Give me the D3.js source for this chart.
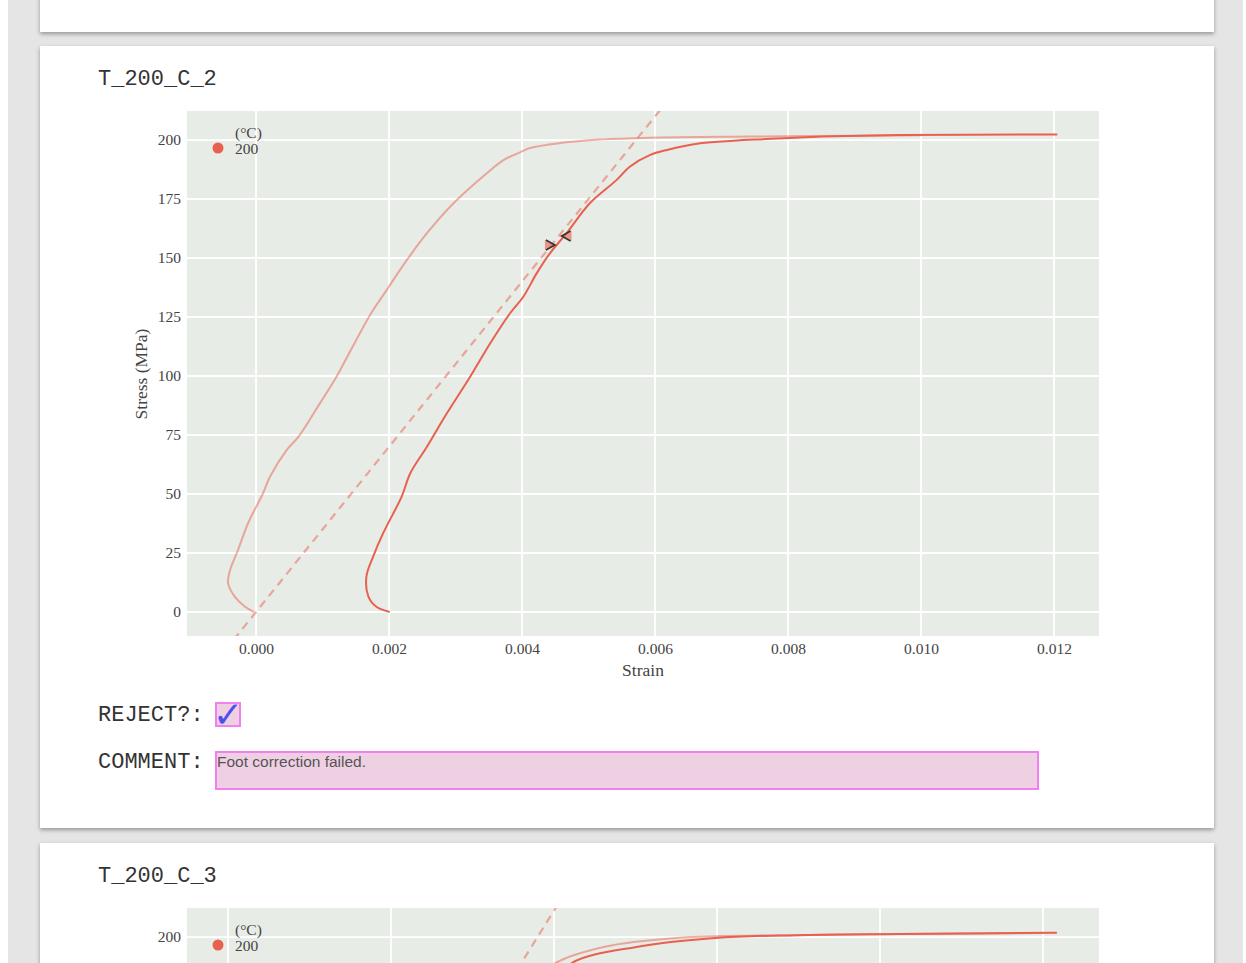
<!DOCTYPE html>
<html><head><meta charset="utf-8">
<script src="https://cdn.jsdelivr.net/npm/d3@7"></script>
<style>
html,body{margin:0;padding:0;background:#fff;overflow:hidden;}
svg{display:block;}
</style></head><body>
<svg id="page" width="1246" height="963"></svg>
<script>
// ---------------- DATA ----------------
const specimenNames = ["T_200_C_2", "T_200_C_3"];
const xTickValues = [0, 0.002, 0.004, 0.006, 0.008, 0.010, 0.012];
const yTickValues = [0, 25, 50, 75, 100, 125, 150, 175, 200];
const legendTitle = "(°C)";
const legendLabels = ["200"];
const xAxisTitle = "Strain";
const yAxisTitle = "Stress (MPa)";
const rejectLabel = "REJECT?:";
const commentLabel = "COMMENT:";
const commentText = "Foot correction failed.";

// Panel 1 (T_200_C_2): raw curve
const rawStrain1 = [-0.00003, -0.000165, -0.00032, -0.00042, -0.00039, -0.00027, -0.00012, 0.0001, 0.00021, 0.00046, 0.00064, 0.00096, 0.00121, 0.00141, 0.00174, 0.00193, 0.00227, 0.00257, 0.00297, 0.00347, 0.00372, 0.00397, 0.00412, 0.00457, 0.00517, 0.00592, 0.00743, 0.00968, 0.01000];
const rawStress1 = [0, 2.2, 6.5, 12.1, 17.8, 26.3, 37.6, 50, 57.3, 68.6, 74.3, 88.4, 99.7, 110.2, 127, 135, 149.2, 160.5, 173.2, 185.9, 191.5, 194.8, 196.6, 198.7, 200.2, 201, 201.5, 201.9, 202];
// Panel 1: corrected curve
const corrStrain1 = [0.00201, 0.00181, 0.00169, 0.00166, 0.00176, 0.00191, 0.00219, 0.00232, 0.00257, 0.00287, 0.00322, 0.00352, 0.00382, 0.00402, 0.00422, 0.00442, 0.00467, 0.00502, 0.00542, 0.00562, 0.00592, 0.00618, 0.00668, 0.00718, 0.00768, 0.00818, 0.00968, 0.01205];
const corrStress1 = [0, 2.2, 6.5, 15, 23.4, 33.3, 48.9, 58.8, 70, 84.2, 99.7, 113.8, 126.6, 133.6, 143.5, 152, 160.5, 173.2, 183, 188.7, 193.6, 195.8, 198.6, 199.7, 200.4, 201.1, 202.1, 202.3];
// Panel 1: modulus (dashed) line
const modStrain1 = [-0.0006, 0.0066];
const modStress1 = [-21, 231];
// Panel 1: fit window markers
const markStrain1 = [0.00442, 0.00467];
const markStress1 = [155.5, 159.3];
const markDir1 = ["right", "left"];

// Panel 2 (T_200_C_3), only the top is visible
const rawStrain2 = [0.0038, 0.00402, 0.00461, 0.0055, 0.00696, 0.00825, 0.0100];
const rawStress2 = [182, 189, 195.8, 199.6, 200.8, 201.3, 201.7];
const corrStrain2 = [0.0040, 0.00422, 0.00501, 0.00598, 0.00696, 0.00825, 0.01017];
const corrStress2 = [180, 189, 195.8, 199.6, 200.8, 201.3, 201.8];
const modStrain2 = [0.0030, 0.0045];
const modStress2 = [155.7, 239];

// ---------------- DRAW ----------------
const VIEW_H = 963;
const svg = d3.select("#page");
const defs = svg.append("defs");
const f = defs.append("filter").attr("id", "shadow").attr("x", "-5%").attr("y", "-5%").attr("width", "110%").attr("height", "110%");
f.append("feDropShadow").attr("dx", 0).attr("dy", 2).attr("stdDeviation", 2).attr("flood-color", "#000").attr("flood-opacity", 0.35);

const lineColor = "#e8604f";
const serif = "'Liberation Serif','Times New Roman',serif";
const mono = "'Liberation Mono','Courier New',monospace";
const sans = "'Liberation Sans',Arial,sans-serif";

// page background
svg.append("rect").attr("x", 8).attr("y", 0).attr("width", 1235).attr("height", 963).attr("fill", "#e5e5e5");

// cards
const cardTops = [-750, 46, 843];
cardTops.forEach(t => {
  svg.append("rect").attr("x", 40).attr("y", t).attr("width", 1174).attr("height", 782)
    .attr("fill", "#fff").attr("filter", "url(#shadow)");
});

function drawPanel(o) {
  const off = o.offset;
  const vis = py => py + off < VIEW_H - 8;
  const g = svg.append("g").attr("transform", `translate(0,${off})`);
  const L = 187, T = 111, W = 912, H = 525;
  const x = d3.scaleLinear().domain(o.xDomain).range([L, L + W]);
  const y = d3.scaleLinear().domain([-10.17, 212.3]).range([T + H, T]);

  g.append("text").attr("x", 98).attr("y", 85).attr("font-family", mono).attr("font-size", 22)
    .attr("fill", "#333").text(o.name);

  g.append("rect").attr("x", L).attr("y", T).attr("width", W).attr("height", H).attr("fill", "#e8ece6");
  const cid = "clip" + o.idx;
  defs.append("clipPath").attr("id", cid).append("rect").attr("x", L).attr("y", T + off).attr("width", W).attr("height", H);

  // grid
  const grid = g.append("g");
  grid.selectAll(".vx").data(o.xTicks).join("line")
    .attr("x1", d => x(d)).attr("x2", d => x(d)).attr("y1", T).attr("y2", T + H)
    .attr("stroke", "#fff").attr("stroke-width", 1.8);
  grid.selectAll(".hy").data(yTickValues).join("line")
    .attr("x1", L).attr("x2", L + W).attr("y1", d => y(d)).attr("y2", d => y(d))
    .attr("stroke", "#fff").attr("stroke-width", 1.8);

  // axes (labels only, those inside the viewport)
  if (vis(T + H + 20)) {
    const xAxis = g.append("g").attr("transform", `translate(0,${T + H})`)
      .call(d3.axisBottom(x).tickValues(o.xTicks).tickFormat(d3.format(".3f")).tickSize(0).tickPadding(7));
    xAxis.select(".domain").remove();
    xAxis.selectAll("text").attr("font-family", serif).attr("font-size", 15.5).attr("fill", "#444");
    g.append("text").attr("x", 643).attr("y", 676).attr("text-anchor", "middle")
      .attr("font-family", serif).attr("font-size", 17.5).attr("fill", "#444").text(xAxisTitle);
    g.append("text").attr("transform", "translate(147,374) rotate(-90)").attr("text-anchor", "middle")
      .attr("font-family", serif).attr("font-size", 17.5).attr("fill", "#444").text(yAxisTitle);
  }
  const yVisible = yTickValues.filter(v => vis(y(v)));
  const yAxis = g.append("g").attr("transform", `translate(${L},0)`)
    .call(d3.axisLeft(y).tickValues(yVisible).tickSize(0).tickPadding(6));
  yAxis.select(".domain").remove();
  yAxis.selectAll("text").attr("font-family", serif).attr("font-size", 15.5).attr("fill", "#444");

  const plot = svg.append("g").attr("clip-path", `url(#${cid})`).append("g").attr("transform", `translate(0,${off})`);
  const line = d3.line().x(d => x(d[0])).y(d => y(d[1])).curve(d3.curveCatmullRom.alpha(0.5));

  plot.append("path").datum(d3.zip(o.modS, o.modP)).attr("d", d3.line().x(d => x(d[0])).y(d => y(d[1])))
    .attr("fill", "none").attr("stroke", lineColor).attr("stroke-opacity", 0.5).attr("stroke-width", 2.2).attr("stroke-dasharray", "8,6");
  plot.append("path").datum(d3.zip(o.rawS, o.rawP)).attr("d", line)
    .attr("fill", "none").attr("stroke", lineColor).attr("stroke-opacity", 0.5).attr("stroke-width", 2);
  plot.append("path").datum(d3.zip(o.corS, o.corP)).attr("d", line)
    .attr("fill", "none").attr("stroke", lineColor).attr("stroke-width", 2);

  if (o.markS) {
    o.markS.forEach((s, i) => {
      const cx = x(s), cy = y(o.markP[i]);
      const sgn = o.markD[i] === "right" ? 1 : -1;
      const mg = plot.append("g").attr("transform", `translate(${cx},${cy})`);
      mg.append("path").attr("d", `M${-5 * sgn},-5L${5 * sgn},0L${-5 * sgn},5Z`)
        .attr("fill", lineColor).attr("fill-opacity", 0.6);
      mg.append("path").attr("d", `M${-4 * sgn},-5L${5 * sgn},0L${-4 * sgn},5`)
        .attr("fill", "none").attr("stroke", "#333").attr("stroke-width", 1.6);
    });
  }

  // legend
  g.append("circle").attr("cx", 218).attr("cy", 148).attr("r", 5.5).attr("fill", lineColor);
  g.append("text").attr("x", 235).attr("y", 138).attr("font-family", serif).attr("font-size", 15.5).attr("fill", "#444").text(legendTitle);
  g.append("text").attr("x", 235).attr("y", 154).attr("font-family", serif).attr("font-size", 15.5).attr("fill", "#444").text(legendLabels[0]);

  if (o.reject) {
    g.append("text").attr("x", 98).attr("y", 721).attr("font-family", mono).attr("font-size", 22).attr("fill", "#333").text(rejectLabel);
    g.append("rect").attr("x", 216).attr("y", 703).attr("width", 24).attr("height", 23)
      .attr("fill", "#efd0e3").attr("stroke", "#f27ff2").attr("stroke-width", 2);
    g.append("text").attr("x", 228).attr("y", 727).attr("text-anchor", "middle").attr("font-family", "'DejaVu Sans',sans-serif")
      .attr("font-size", 36).attr("fill", "#4f4fee").text("✓");
    g.append("text").attr("x", 98).attr("y", 768).attr("font-family", mono).attr("font-size", 22).attr("fill", "#333").text(commentLabel);
    g.append("rect").attr("x", 216).attr("y", 752).attr("width", 822).attr("height", 37)
      .attr("fill", "#efd0e3").attr("stroke", "#f27ff2").attr("stroke-width", 2);
    g.append("text").attr("x", 217).attr("y", 767).attr("font-family", sans).attr("font-size", 15.5).attr("fill", "#555").text(commentText);
  }
}

drawPanel({ idx: 1, offset: 0, name: specimenNames[0], xDomain: [-0.001038, 0.012677], xTicks: xTickValues,
  rawS: rawStrain1, rawP: rawStress1, corS: corrStrain1, corP: corrStress1, modS: modStrain1, modP: modStress1,
  markS: markStrain1, markP: markStress1, markD: markDir1, reject: true });
drawPanel({ idx: 2, offset: 797, name: specimenNames[1], xDomain: [-0.000503, 0.010687], xTicks: xTickValues.slice(0, 6),
  rawS: rawStrain2, rawP: rawStress2, corS: corrStrain2, corP: corrStress2, modS: modStrain2, modP: modStress2,
  reject: false });
</script>
</body></html>
